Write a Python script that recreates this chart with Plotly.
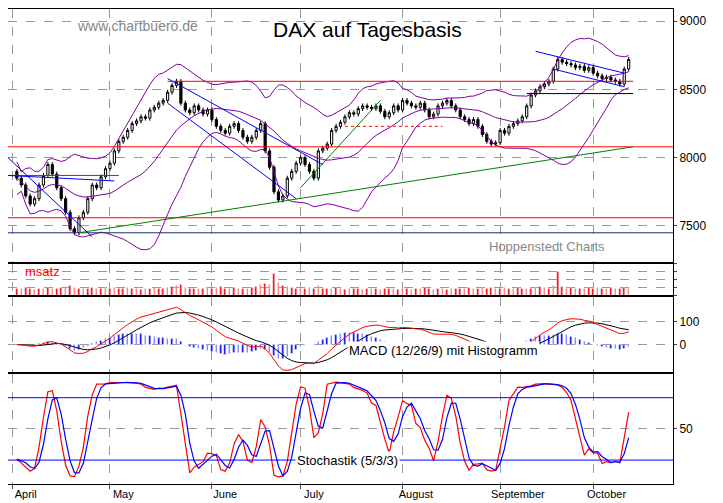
import pandas as pd, numpy as np
import plotly.graph_objects as go
from plotly.subplots import make_subplots

closes = (
 [7850,7800,7720,7660,7700,7800,7870,7950,7880,7780,7700,7600,7480,7450,7560,7600,7700,7800,7780,7860,7920] +
 [7960,8050,8120,8150,8200,8250,8270,8300,8290,8350,8370,8400,8420,8480,8530,8560,8400,8350,8330,8380,8350,8320,8350] +
 [8280,8230,8200,8180,8230,8250,8200,8150,8120,8150,8200,8250,8050,7930,7750,7690,7720,7850,7900,7960] +
 [8000,7950,7900,7850,8050,8070,8100,8200,8230,8260,8300,8330,8320,8360,8380,8370,8360,8380,8340,8300,8330,8380,8350] +
 [8420,8400,8380,8370,8400,8350,8300,8320,8380,8400,8420,8380,8350,8300,8280,8250,8280,8230,8170,8120,8100,8110] +
 [8200,8180,8230,8250,8270,8300,8380,8460,8490,8520,8540,8560,8650,8720,8700,8690,8680,8660,8670,8640,8660] +
 [8620,8600,8580,8590,8570,8560,8540,8650,8720])
volume = (
 [9,8,10,9,7,8,9,10,8,9,10,11,12,10,9,8,9,10,8,9,10] +
 [9,10,8,9,10,8,9,7,8,9,10,9,8,10,11,12,14,10,9,8,9,8,10] +
 [9,10,11,9,8,10,9,8,9,10,11,13,15,14,28,16,12,11,10,9] +
 [8,9,10,8,12,9,8,9,10,8,7,8,9,8,7,8,9,8,7,8,9,8,7] +
 [8,9,7,8,9,10,8,7,8,9,7,8,9,8,9,10,8,9,10,9,10,9] +
 [9,10,8,9,10,9,8,9,10,11,10,9,12,30,11,9,10,9,8,9,10] +
 [9,10,8,9,10,9,8,10,9])
month_ticks = ["2013-04-01","2013-05-01","2013-06-03","2013-07-01","2013-08-01","2013-09-02","2013-10-01"]
month_labels = ["April","May","June","July","August","September","October"]
label_pos = ["2013-04-04","2013-05-06","2013-06-06","2013-07-04","2013-08-06","2013-09-06","2013-10-04"]

dates = pd.bdate_range("2013-04-02", periods=len(closes))
c = pd.Series(closes, index=dates, dtype=float)
o = c.shift(1).fillna(7900)
h = np.maximum(o, c) + 18
l = np.minimum(o, c) - 18

ma = c.rolling(20, min_periods=1).mean()
sd = c.rolling(20, min_periods=2).std().fillna(60)
bu, bl = ma + 2*sd, ma - 2*sd
macd = c.ewm(span=12).mean() - c.ewm(span=26).mean()
sig = macd.ewm(span=9).mean()
hist = macd - sig
lo5 = pd.Series(l, index=dates).rolling(5, min_periods=1).min()
hi5 = pd.Series(h, index=dates).rolling(5, min_periods=1).max()
k = (100*(c-lo5)/(hi5-lo5)).rolling(3, min_periods=1).mean()
d = k.rolling(3, min_periods=1).mean()

fig = make_subplots(rows=4, cols=1, shared_xaxes=True, row_heights=[255,32,76,111], vertical_spacing=0.003)
fig.add_trace(go.Scatter(x=dates, y=bu, line=dict(color="#8000a0", width=1)), 1, 1)
fig.add_trace(go.Scatter(x=dates, y=bl, line=dict(color="#8000a0", width=1)), 1, 1)
fig.add_trace(go.Scatter(x=dates, y=ma, line=dict(color="#8000a0", width=1)), 1, 1)
fig.add_trace(go.Candlestick(x=dates, open=o, high=h, low=l, close=c,
    increasing=dict(line=dict(color="black", width=1), fillcolor="white"),
    decreasing=dict(line=dict(color="black", width=1), fillcolor="black"), whiskerwidth=0), 1, 1)
fig.add_trace(go.Bar(x=dates, y=volume, marker_color="red", width=86400000*0.35), 2, 1)
fig.add_trace(go.Bar(x=dates, y=hist, marker_color="blue", width=86400000*0.35), 3, 1)
fig.add_trace(go.Scatter(x=dates, y=sig, line=dict(color="black", width=1)), 3, 1)
fig.add_trace(go.Scatter(x=dates, y=macd, line=dict(color="red", width=1)), 3, 1)
fig.add_trace(go.Scatter(x=dates, y=k, line=dict(color="red", width=1.2)), 4, 1)
fig.add_trace(go.Scatter(x=dates, y=d, line=dict(color="blue", width=1.2)), 4, 1)

X0, X1 = "2013-03-29", "2013-10-25"
def hline(y, x0=X0, x1=X1, color="red", dash="solid", row=1):
    fig.add_shape(type="line", x0=x0, x1=x1, y0=y, y1=y, line=dict(color=color, width=1, dash=dash), row=row, col=1)
hline(8560, "2013-05-20", "2013-10-14")
hline(8080); hline(7560); hline(7870, X0, "2013-05-03")
hline(7450, color="#203070")
hline(8470, "2013-09-10", "2013-10-14", color="black")
hline(8230, "2013-07-15", "2013-08-14", dash="dot")
hline(80, color="blue", row=4); hline(20, color="blue", row=4)
def seg(x0, y0, x1, y1, color):
    fig.add_shape(type="line", x0=x0, x1=x1, y0=y0, y1=y1, line=dict(color=color, width=1), row=1, col=1)
seg("2013-04-22", 7450, "2013-10-14", 8080, "green")
seg("2013-07-01", 7780, "2013-07-25", 8420, "green")
seg(X0, 8000, "2013-04-25", 7420, "blue"); seg(X0, 7870, "2013-05-02", 7830, "blue")
seg("2013-05-20", 8580, "2013-07-08", 7950, "blue"); seg("2013-05-20", 8400, "2013-06-28", 7700, "blue")
seg("2013-09-12", 8780, "2013-10-10", 8620, "blue"); seg("2013-09-18", 8650, "2013-10-10", 8520, "blue")

FONT = "Liberation Sans"
grid = dict(showgrid=True, gridcolor="#999", griddash="dash", gridwidth=1)
for r in range(1, 5):
    fig.update_xaxes(row=r, col=1, range=[X0, X1], rangebreaks=[dict(bounds=["sat", "mon"])],
        showline=True, linecolor="black", mirror=True, tickvals=label_pos, ticktext=month_labels,
        showgrid=False, ticks="", rangeslider_visible=False,
        minor=dict(tickmode="array", tickvals=month_ticks, showgrid=True, gridcolor="#999", griddash="dash", ticks="outside", ticklen=4),
        showticklabels=(r == 4), tickfont=dict(family=FONT, size=11, color="black"))
yk = dict(side="right", showline=True, linecolor="black", mirror=True, ticks="outside", ticklen=3,
          tickfont=dict(family=FONT, size=12, color="black"), zeroline=False, **grid)
fig.update_yaxes(row=1, col=1, range=[7234, 9090], tickvals=[7500, 8000, 8500, 9000], **yk)
fig.update_yaxes(row=2, col=1, range=[0, 40], showticklabels=False, **yk)
fig.update_yaxes(row=3, col=1, range=[-122, 209], tickvals=[0, 100], **yk)
fig.update_yaxes(row=4, col=1, range=[-3, 103], tickvals=[50], **yk)

ann = [
 dict(text="DAX auf Tagesbasis", x=0.54, y=0.985, size=21, color="black"),
 dict(text="www.chartbuero.de", x=0.1, y=0.985, size=14, color="#888"),
 dict(text="Hoppenstedt Charts", x=0.9, y=0.5, size=13, color="#888"),
 dict(text="msatz", x=0.022, y=0.448, size=13, color="red"),
 dict(text="MACD (12/26/9) mit Histogramm", x=0.655, y=0.262, size=13, color="black"),
 dict(text="Stochastik (5/3/3)", x=0.51, y=0.03, size=13, color="black"),
]
for a in ann:
    fig.add_annotation(text=a["text"], x=a["x"], y=a["y"], xref="paper", yref="paper", showarrow=False,
                       font=dict(family=FONT, size=a["size"], color=a["color"]), bgcolor="white" if "MACD" in a["text"] or "Stoch" in a["text"] else None)

fig.update_layout(width=723, height=503, margin=dict(l=0, r=58, t=1, b=27), showlegend=False,
                  plot_bgcolor="white", paper_bgcolor="white", bargap=0)
fig.write_html("out.html")
